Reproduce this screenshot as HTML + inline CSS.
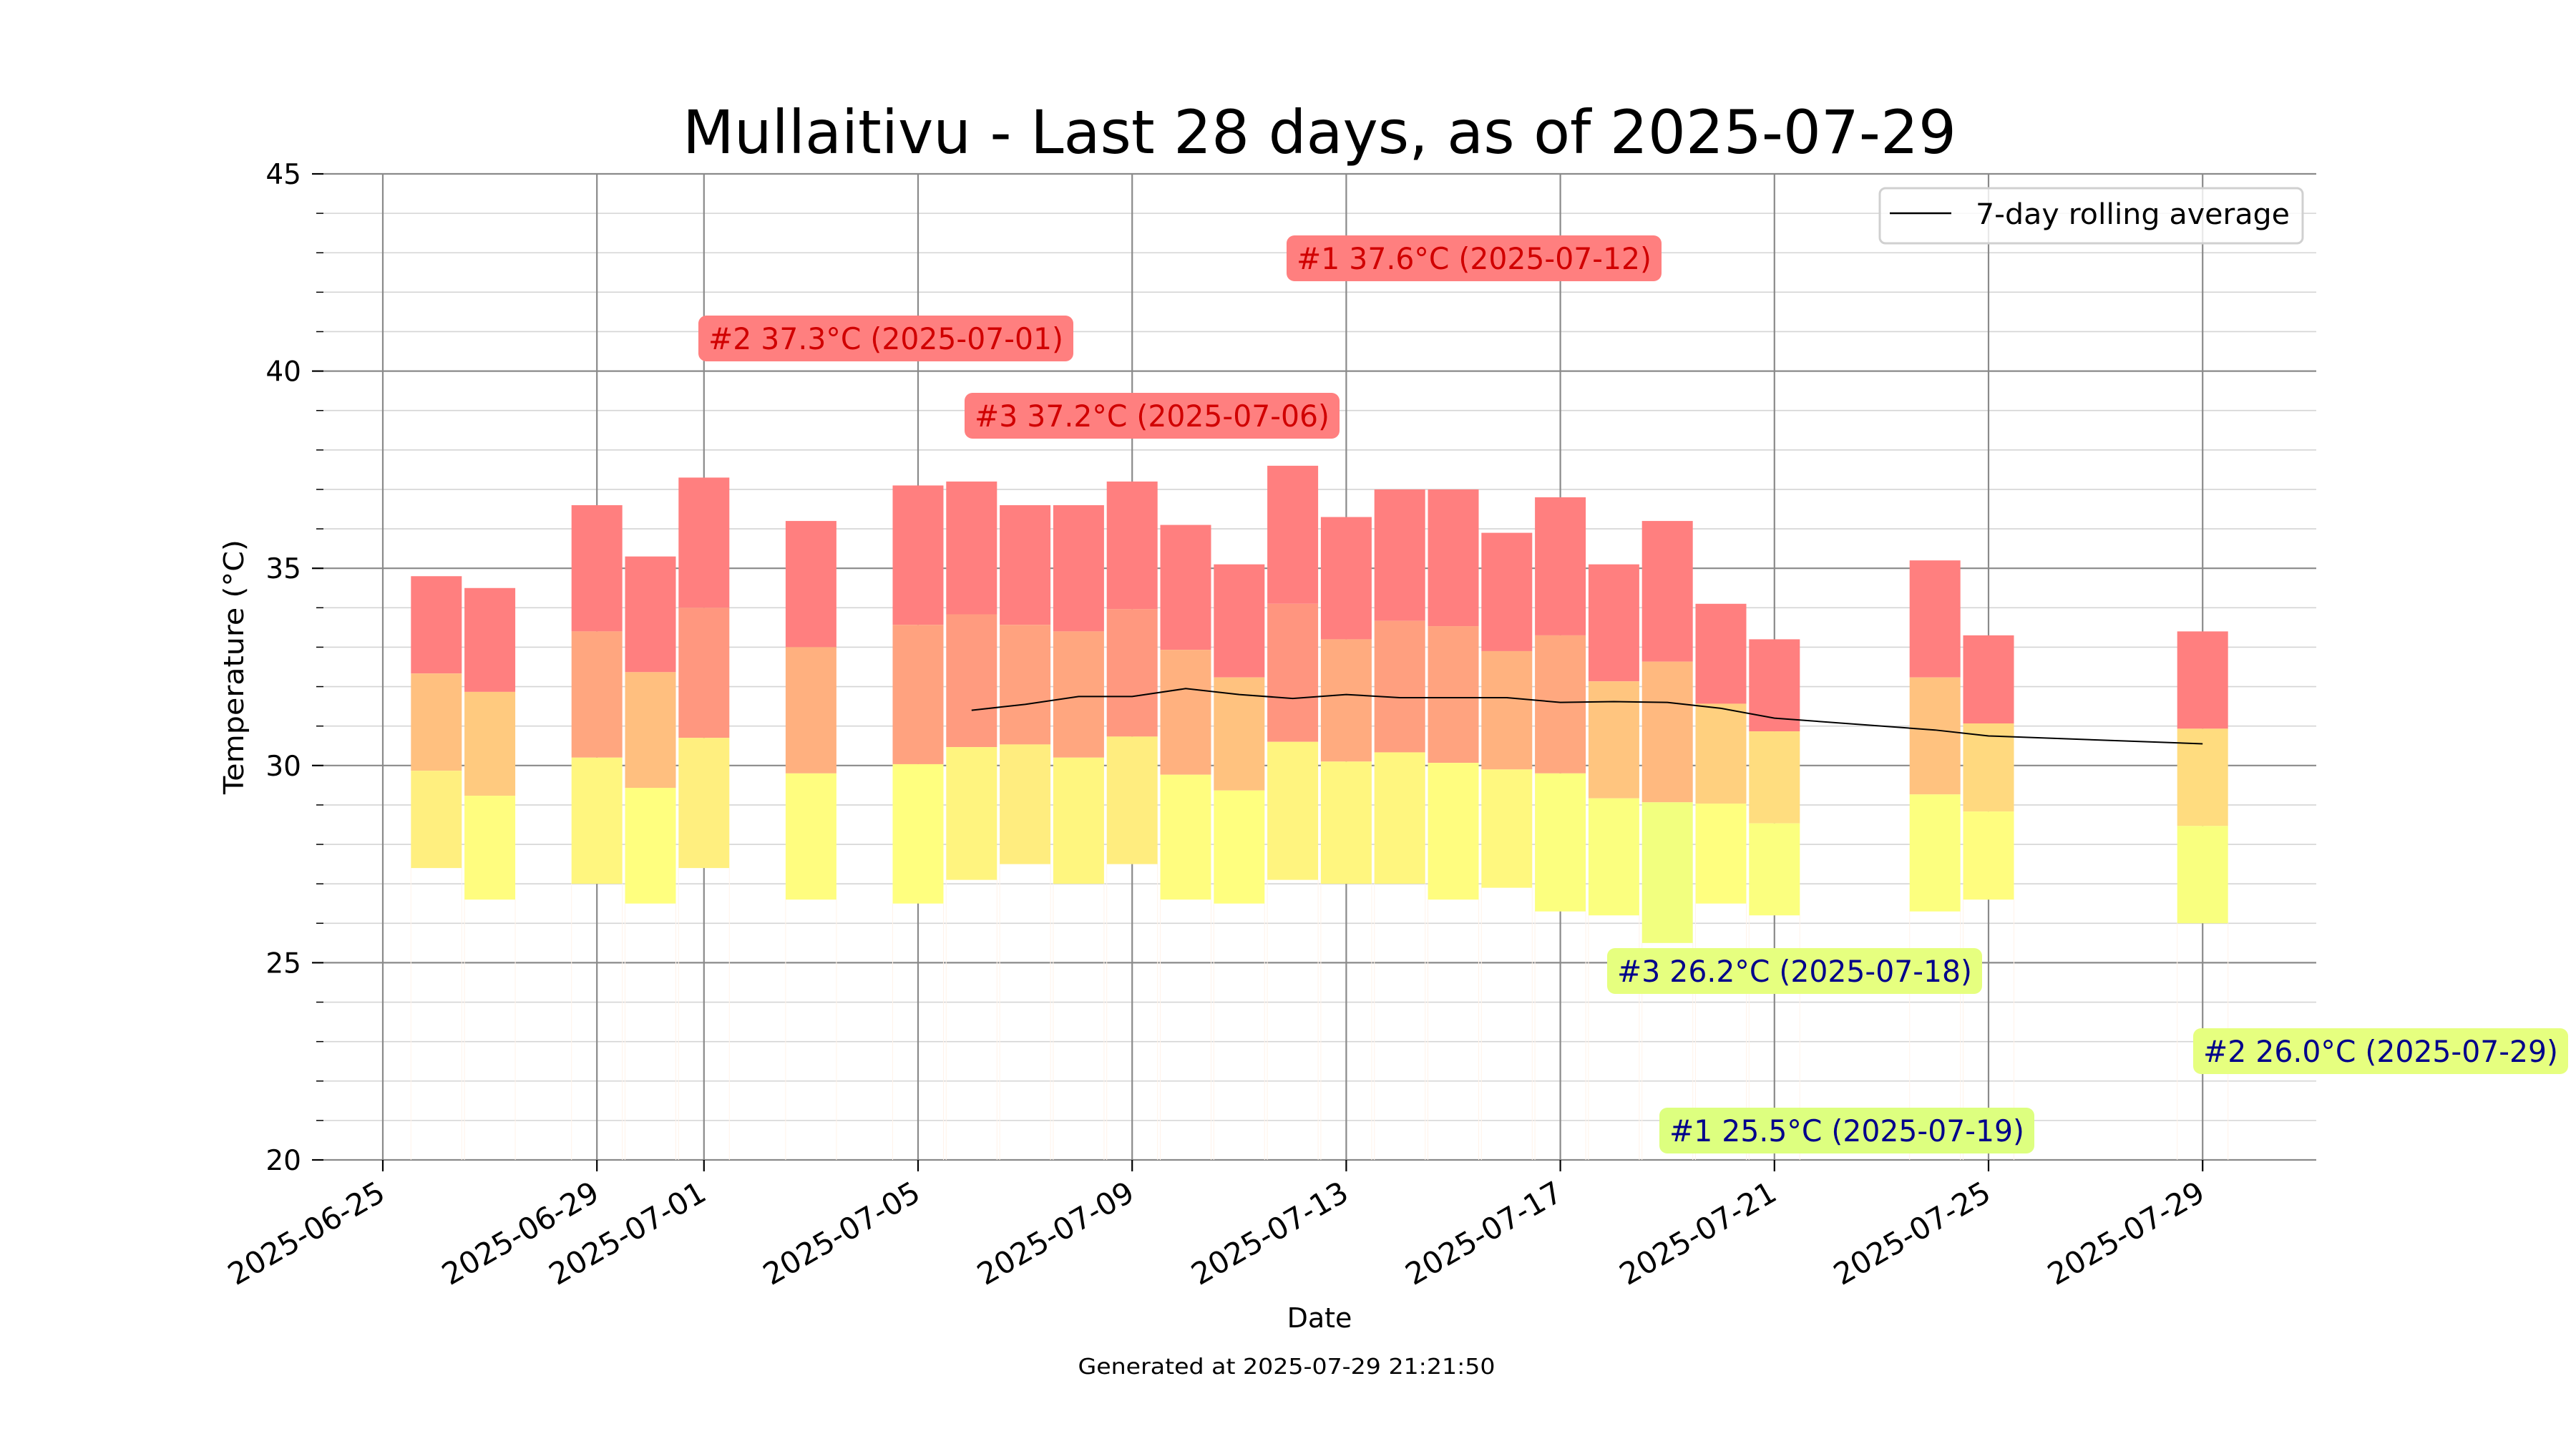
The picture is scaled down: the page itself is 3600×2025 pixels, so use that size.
<!DOCTYPE html>
<html><head><meta charset="utf-8"><style>
html,body{margin:0;padding:0;background:#fff;}
svg{display:block;font-family:"DejaVu Sans","Liberation Sans",sans-serif;}
</style></head><body>
<svg id="chart" width="3600" height="2025" viewBox="0 0 3600 2025" xmlns="http://www.w3.org/2000/svg">
<text x="1844" y="214" font-size="84" text-anchor="middle" fill="#000" textLength="1780" lengthAdjust="spacingAndGlyphs">Mullaitivu - Last 28 days, as of 2025-07-29</text>
<text x="1844" y="1855" font-size="38" text-anchor="middle">Date</text>
<text x="0" y="0" font-size="38" text-anchor="middle" transform="translate(340,932) rotate(-90)" textLength="356" lengthAdjust="spacingAndGlyphs">Temperature (°C)</text>
<text x="1798" y="1920" font-size="30" text-anchor="middle" textLength="583" lengthAdjust="spacingAndGlyphs">Generated at 2025-07-29 21:21:50</text>
<g id="grid"></g><g id="bars"></g><g id="line"></g><g id="axes"></g><g id="annot"></g>
<g>
<rect x="2627" y="263" width="591" height="77" rx="8" fill="#fff" fill-opacity="0.8" stroke="#d0d0d0" stroke-width="3"/>
<line x1="2641" y1="298" x2="2727" y2="298" stroke="#000" stroke-width="2.5"/>
<text x="2761" y="313" font-size="40" textLength="439" lengthAdjust="spacingAndGlyphs">7-day rolling average</text>
</g>
</svg>
<script>
const dates = ["2025-06-26","2025-06-27","2025-06-29","2025-06-30","2025-07-01","2025-07-03","2025-07-05","2025-07-06","2025-07-07","2025-07-08","2025-07-09","2025-07-10","2025-07-11","2025-07-12","2025-07-13","2025-07-14","2025-07-15","2025-07-16","2025-07-17","2025-07-18","2025-07-19","2025-07-20","2025-07-21","2025-07-24","2025-07-25","2025-07-29"];
const maxTemps = [34.8,34.5,36.6,35.3,37.3,36.2,37.1,37.2,36.6,36.6,37.2,36.1,35.1,37.6,36.3,37.0,37.0,35.9,36.8,35.1,36.2,34.1,33.2,35.2,33.3,33.4];
const minTemps = [27.4,26.6,27.0,26.5,27.4,26.6,26.5,27.1,27.5,27.0,27.5,26.6,26.5,27.1,27.0,27.0,26.6,26.9,26.3,26.2,25.5,26.5,26.2,26.3,26.6,26.0];
const avgDates = ["2025-07-06","2025-07-07","2025-07-08","2025-07-09","2025-07-10","2025-07-11","2025-07-12","2025-07-13","2025-07-14","2025-07-15","2025-07-16","2025-07-17","2025-07-18","2025-07-19","2025-07-20","2025-07-21","2025-07-24","2025-07-25","2025-07-29"];
const avgValues = [31.4,31.55,31.75,31.75,31.95,31.8,31.7,31.8,31.72,31.72,31.72,31.6,31.62,31.6,31.45,31.2,30.9,30.75,30.55];
const xTickLabels = ["2025-06-25","2025-06-29","2025-07-01","2025-07-05","2025-07-09","2025-07-13","2025-07-17","2025-07-21","2025-07-25","2025-07-29"];
const yTickLabels = [20,25,30,35,40,45];
const annLabels = ["#1 37.6°C (2025-07-12)","#2 37.3°C (2025-07-01)","#3 37.2°C (2025-07-06)","#3 26.2°C (2025-07-18)","#1 25.5°C (2025-07-19)","#2 26.0°C (2025-07-29)"];
const annKinds = ["max","max","max","min","min","min"];

const NS="http://www.w3.org/2000/svg";
const L=452,R=3237,T=243,B=1621;
const d0=Date.UTC(2025,5,25);
function dayOf(s){const p=s.split("-");return (Date.UTC(+p[0],+p[1]-1,+p[2])-d0)/864e5;}
function X(s){return 535+dayOf(s)*74.8;}
function Y(v){return B-(v-20)*(B-T)/25;}
function mk(tag,attrs,parent){const e=document.createElementNS(NS,tag);for(const k in attrs)e.setAttribute(k,attrs[k]);parent.appendChild(e);return e;}
function col(v){
  const stops=[[25,[217,255,127]],[28,[255,255,127]],[31,[255,200,127]],[34,[255,127,127]]];
  if(v<=stops[0][0])return "rgb("+stops[0][1]+")";
  for(let i=1;i<stops.length;i++){if(v<=stops[i][0]){const a=stops[i-1],b=stops[i],t=(v-a[0])/(b[0]-a[0]);return "rgb("+a[1].map((c,j)=>Math.round(c+(b[1][j]-c)*t)).join(",")+")";}}
  return "rgb(255,127,127)";
}
const grid=document.getElementById("grid");
for(let v=20;v<=45;v++){
  const e=mk("line",{x1:L,x2:R,y1:Y(v),y2:Y(v),stroke:v%5?"#d4d4d4":"#8a8a8a","stroke-width":v%5?1.6:2.2},grid);
  
  
}
xTickLabels.forEach(s=>{
  const e=mk("line",{x1:X(s),x2:X(s),y1:T,y2:B,stroke:"#8a8a8a","stroke-width":2.2},grid);
  
  
});
const bars=document.getElementById("bars");
dates.forEach((s,i)=>{
  const hi=maxTemps[i],lo=minTemps[i],st=(hi-lo)/3,cx=X(s),w=71;
  const g=mk("g",{},bars);
  
  
  mk("line",{x1:cx-w/2,x2:cx-w/2,y1:Y(lo),y2:B,stroke:"#fff3ea","stroke-width":1},g);
  mk("line",{x1:cx+w/2,x2:cx+w/2,y1:Y(lo),y2:B,stroke:"#fff3ea","stroke-width":1},g);
  const segs=[[hi,hi-st,col(Math.max(hi-0.5,34))],[hi-st,lo+st,col(hi-st-1)],[lo+st,lo,col(lo+1.5)]];
  segs.forEach((sg,k)=>{
    const r=mk("rect",{x:cx-w/2,y:Y(sg[0]),width:w,height:Y(sg[1])-Y(sg[0]),fill:sg[2]},g);
    
    
  });
});
const lg=document.getElementById("line");
const pl=mk("polyline",{points:avgDates.map((s,i)=>X(s)+","+Y(avgValues[i])).join(" "),fill:"none",stroke:"#000","stroke-width":2},lg);


const ax=document.getElementById("axes");
for(let v=20;v<=45;v++){
  mk("line",{x1:v%5?442:436,x2:452,y1:Y(v),y2:Y(v),stroke:"#000","stroke-width":v%5?1.5:2.2},ax);
}
yTickLabels.forEach(v=>{
  const t=mk("text",{x:421,y:Y(v)+14,"font-size":39,"text-anchor":"end"},ax);t.textContent=v;
  
  
});
xTickLabels.forEach(s=>{
  const x=X(s);
  mk("line",{x1:x,x2:x,y1:B,y2:B+16,stroke:"#000","stroke-width":2.2},ax);
  const t=mk("text",{x:0,y:0,"font-size":42,"text-anchor":"end",transform:"translate("+(x+6)+","+(B+54)+") rotate(-30)"},ax);t.textContent=s;
  
  
});
const an=document.getElementById("annot");
const annPos=[[2060,361],[1238,473],[1610,581],[2508,1357],[2581,1580],[3327,1469]];
annLabels.forEach((s,i)=>{
  const isMax=annKinds[i]==="max",c=annPos[i],w=524,h=64;
  const g=mk("g",{},an);
  
  
  mk("rect",{x:c[0]-w/2,y:c[1]-h/2,width:w,height:h,rx:11,fill:isMax?"#ff7f7f":(i===4?"#ddff7f":"#e6ff7f")},g);
  const t=mk("text",{x:c[0],y:c[1]+15,"font-size":42,"text-anchor":"middle",fill:isMax?"#d00000":"#00008b",textLength:496,lengthAdjust:"spacingAndGlyphs"},g);
  t.textContent=s;
});
</script>
</body></html>
